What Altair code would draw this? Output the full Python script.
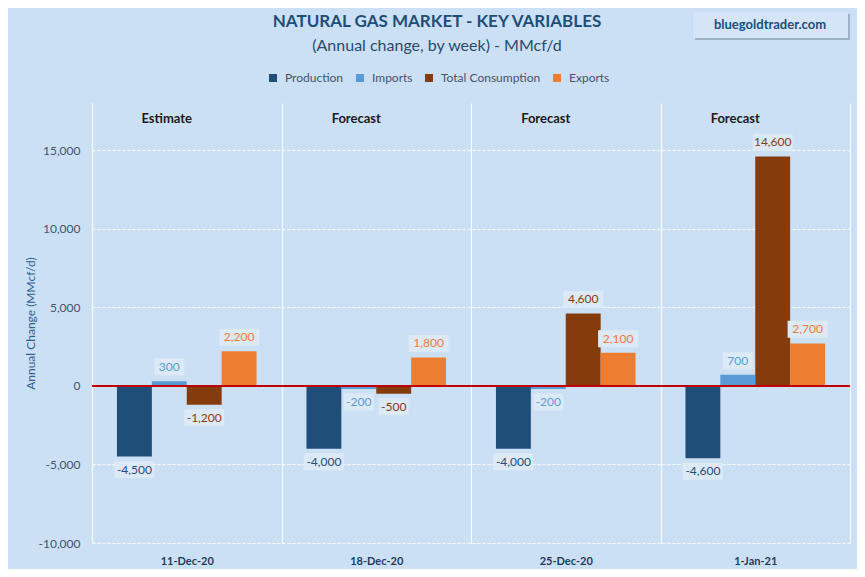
import altair as alt
import pandas as pd

weeks = ["11-Dec-20", "18-Dec-20", "25-Dec-20", "1-Jan-21"]
phases = ["Estimate", "Forecast", "Forecast", "Forecast"]
series = ["Production", "Imports", "Total Consumption", "Exports"]
production = [-4500, -4000, -4000, -4600]
imports = [300, -200, -200, 700]
consumption = [-1200, -500, 4600, 14600]
exports = [2200, 1800, 2100, 2700]
colors = ["#1f4e79", "#5b9bd5", "#843c0c", "#ed7d31"]
y_ticks = [-10000, -5000, 0, 5000, 10000, 15000]
title_text = ["NATURAL GAS MARKET - KEY VARIABLES"]
subtitle_text = ["(Annual change, by week) - MMcf/d"]
brand_text = ["bluegoldtrader.com"]
y_title = "Annual Change (MMcf/d)"

rows = []
for s, vals in zip(series, [production, imports, consumption, exports]):
    for w, v in zip(weeks, vals):
        rows.append({"week": w, "series": s, "value": v})
df = pd.DataFrame(rows)
phase_df = pd.DataFrame({"week": weeks, "phase": phases})

FONT = "Lato"
BG = "#cce0f5"

x_enc = alt.X(
    "week:N", sort=weeks,
    scale=alt.Scale(paddingInner=0, paddingOuter=0),
    axis=alt.Axis(title=None, tickBand="extent", grid=True, gridColor="white",
                  gridWidth=1, ticks=False, domain=False, labelFont=FONT,
                  labelFontWeight="bold", labelFontSize=11, labelColor="#1f3b5a",
                  labelPadding=12, labelAngle=0),
)
xoff = alt.XOffset("series:N", sort=series,
                   scale=alt.Scale(paddingInner=0, paddingOuter=0.715))
y_scale = alt.Scale(domain=[-10000, 18000], nice=False)
y_axis = alt.Axis(values=y_ticks, title=y_title, grid=True,
                  labelExpr="(datum.value < 0 ? '-' : '') + format(abs(datum.value), ',.0f')",
                  gridColor="white", gridDash=[3, 2], gridWidth=1, ticks=False,
                  domain=True, domainColor="white", domainWidth=1,
                  labelFont=FONT, labelFontSize=12, labelColor="#44546a",
                  labelPadding=12, titleFont=FONT, titleFontSize=12,
                  titleFontWeight="normal", titleColor="#2e5f8f",
                  titleAngle=-90, titleX=-62, titleY=220,
                  titleAlign="center", titleBaseline="middle")
color_scale = alt.Scale(domain=series, range=colors)

base = alt.Chart(df)

bars = base.mark_bar().encode(
    x=x_enc, xOffset=xoff,
    y=alt.Y("value:Q", scale=y_scale, axis=y_axis),
    color=alt.Color("series:N", scale=color_scale, sort=series,
                    legend=alt.Legend(orient="none", direction="horizontal",
                                      legendX=175, legendY=-31, title=None,
                                      symbolType="square", symbolSize=64,
                                      symbolStrokeWidth=0, labelFont=FONT,
                                      labelFontSize=12, labelColor="#44546a",
                                      columnPadding=10, labelOffset=6)),
)

zero = alt.Chart(df).mark_rule(color="#c00000", strokeWidth=1.8).encode(
    y=alt.datum(0, type="quantitative")
)

lab = base.transform_calculate(
    label_y="datum.value >= 0 ? datum.value + 900 : datum.value - 830",
    ylo="(datum.value >= 0 ? datum.value + 900 : datum.value - 830) - 540",
    yhi="(datum.value >= 0 ? datum.value + 900 : datum.value - 830) + 540",
    txt="(datum.value < 0 ? '-' : '') + format(abs(datum.value), ',.0f')",
    n="length(format(datum.value, ',.0f'))",
)

box_short = lab.transform_filter("datum.n <= 4").mark_bar(width=30, color="#dce9f6").encode(
    x=x_enc, xOffset=xoff,
    y=alt.Y("ylo:Q", scale=y_scale, axis=y_axis), y2="yhi:Q",
)
box_long = lab.transform_filter("datum.n > 4").mark_bar(width=40, color="#dce9f6").encode(
    x=x_enc, xOffset=xoff,
    y=alt.Y("ylo:Q", scale=y_scale, axis=y_axis), y2="yhi:Q",
)

texts = lab.mark_text(font=FONT, fontSize=12, baseline="middle").encode(
    x=x_enc, xOffset=xoff,
    y=alt.Y("label_y:Q", scale=y_scale, axis=y_axis),
    text="txt:N",
    color=alt.Color("series:N", scale=color_scale, legend=None),
)

headers = alt.Chart(phase_df).mark_text(
    font=FONT, fontSize=13, fontWeight="bold", color="#1a1a1a", dx=-20, baseline="middle"
).encode(x=x_enc, y=alt.value(16), text="phase:N")

title = alt.Chart(pd.DataFrame({"t": title_text})).mark_text(
    font=FONT, fontSize=17, fontWeight="bold", color="#1f4e79", baseline="middle"
).encode(x=alt.value(345), y=alt.value(-81), text="t:N")

subtitle = alt.Chart(pd.DataFrame({"t": subtitle_text})).mark_text(
    font=FONT, fontSize=16, color="#2b4a6b", baseline="middle"
).encode(x=alt.value(345), y=alt.value(-57), text="t:N")

shadow = alt.Chart(pd.DataFrame({"t": brand_text})).mark_rect(color="#9db2c8").encode(
    x=alt.value(603), x2=alt.value(758), y=alt.value(-89), y2=alt.value(-63)
)
brand_box = alt.Chart(pd.DataFrame({"t": brand_text})).mark_rect(color="#d3e5f7").encode(
    x=alt.value(601), x2=alt.value(756), y=alt.value(-91), y2=alt.value(-65)
)
brand = alt.Chart(pd.DataFrame({"t": brand_text})).mark_text(
    font=FONT, fontSize=13, fontWeight="bold", color="#1f4e79", baseline="middle"
).encode(x=alt.value(678), y=alt.value(-78), text="t:N")

chart = alt.layer(
    bars, zero, box_short, box_long, texts, headers, title, subtitle, shadow, brand_box, brand
).properties(
    width=758, height=440,
    padding={"left": 84, "top": 95, "right": 7, "bottom": 26},
    autosize=alt.AutoSizeParams(type="none"),
    background=BG,
).configure_view(stroke=None)

chart.save("out.html", embed_options={"renderer": "svg", "actions": False})
